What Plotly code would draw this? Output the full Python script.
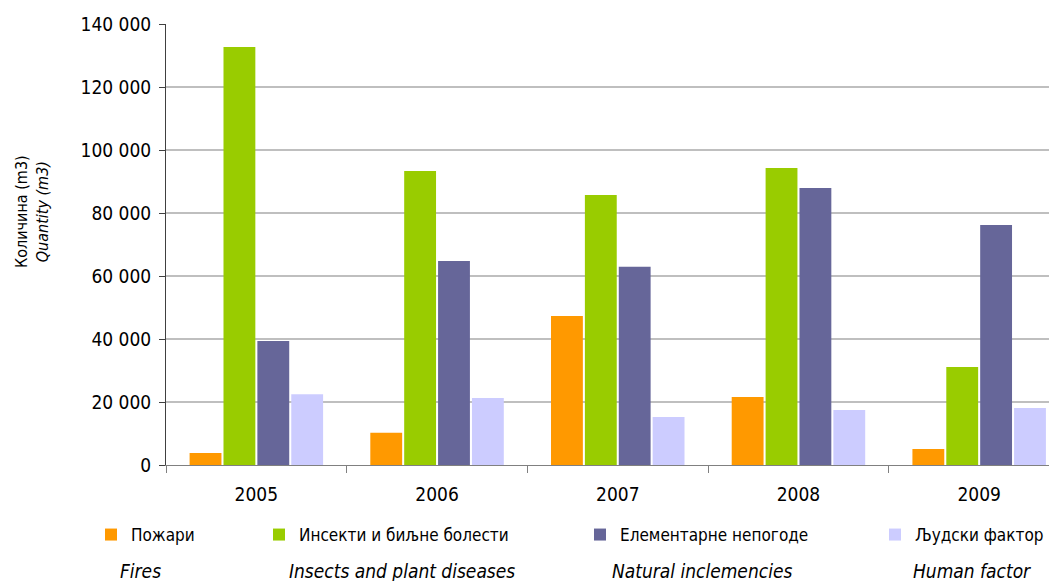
import plotly.graph_objects as go

years = ["2005", "2006", "2007", "2008", "2009"]
series_sr = ["Пожари", "Инсекти и биљне болести", "Елементарне непогоде", "Људски фактор"]
series_en = ["Fires", "Insects and plant diseases", "Natural inclemencies", "Human factor"]
fires = [3800, 10200, 47300, 21600, 5100]
insects = [132700, 93300, 85700, 94300, 31100]
natural = [39400, 64800, 62900, 87900, 76200]
human = [22500, 21300, 15200, 17500, 18100]
values = [fires, insects, natural, human]
colors = ["#FF9900", "#99CC00", "#666699", "#CCCCFF"]
yticks = [0, 20000, 40000, 60000, 80000, 100000, 120000, 140000]
ytitle = "Количина (m3)<br><i>Quantity (m3)</i>"

FONT = "DejaVu Sans Condensed, Tahoma, DejaVu Sans, sans-serif"

# page body has an 8px margin; figure coordinates below are offset for it
W, H = 1057, 581
L, R, T, B = 158, 0, 16, 124
PW = W - L - R
PH = H - T - B

# legend left positions (figure px) and english label centers (figure px)
leg_x = [83, 251, 572, 867]
en_x = [132, 394, 694, 964]
en_y = 563

fig = go.Figure()
legend_names = ["legend", "legend2", "legend3", "legend4"]
for i in range(4):
    fig.add_trace(go.Bar(
        x=years, y=values[i], name=series_sr[i],
        marker=dict(color=colors[i], line=dict(width=0)),
        legend=legend_names[i],
    ))

layout_legends = {}
for i, ln in enumerate(legend_names):
    layout_legends[ln] = dict(
        x=leg_x[i] / W, xref="container", xanchor="left",
        y=1 - 527 / H, yref="container", yanchor="middle",
        orientation="h", font=dict(size=17, color="#000000", family=FONT),
        bgcolor="rgba(0,0,0,0)", itemwidth=30, tracegroupgap=0,
    )
fig.update_layout(**layout_legends)

for i in range(4):
    fig.add_annotation(
        text="<i>" + series_en[i] + "</i>",
        x=(en_x[i] - L) / PW, xref="paper",
        y=(H - B - en_y) / PH, yref="paper",
        xanchor="center", yanchor="middle",
        showarrow=False, font=dict(size=19, color="#000000", family=FONT),
    )

# y-axis title (two lines, rotated), placed above the plot centre as in the reference
fig.add_annotation(
    text=ytitle, textangle=-90,
    x=(24 - L) / PW, xref="paper",
    y=(H - B - 204) / PH, yref="paper",
    xanchor="center", yanchor="middle",
    showarrow=False, font=dict(size=16, color="#000000", family=FONT),
)

fig.update_layout(
    width=W, height=H,
    margin=dict(l=L, r=R, t=T, b=B),
    paper_bgcolor="white", plot_bgcolor="white",
    separators=". ",
    barmode="group", bargap=0.25, bargroupgap=0.06,
    font=dict(family=FONT, color="#000000"),
    showlegend=True,
    xaxis=dict(
        type="category", range=[-0.5, 4.475],
        showline=True, linecolor="#808080", linewidth=1,
        ticks="outside", tickson="boundaries", ticklen=7, tickcolor="#808080",
        tickfont=dict(size=19, family=FONT), showgrid=False,
        ticklabelstandoff=12,
    ),
    yaxis=dict(
        range=[0, 140000], tickvals=yticks, tickformat=",",
        showline=True, linecolor="#404040", linewidth=1,
        ticks="outside", ticklen=6, tickcolor="#404040",
        gridcolor="#BFBFBF", gridwidth=1.5,
        tickfont=dict(size=19, family=FONT),
        ticklabelstandoff=4,
        zeroline=False,
    ),
)

fig.write_html("out.html")
